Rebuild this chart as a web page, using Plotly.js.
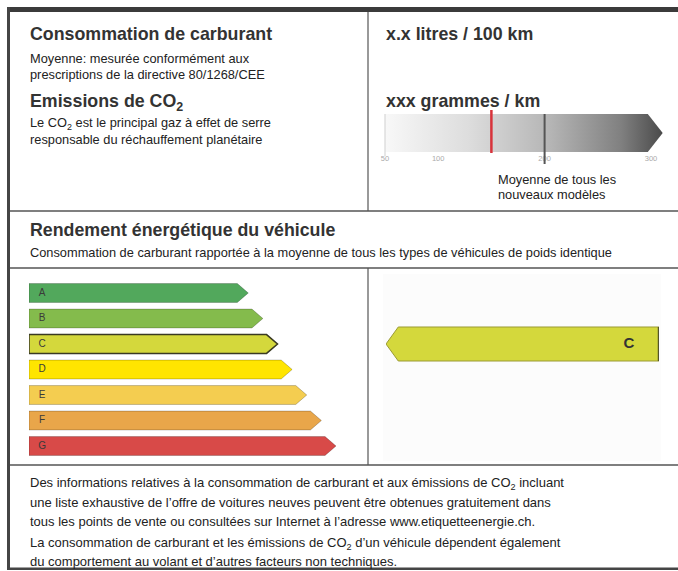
<!DOCTYPE html>
<html><head><meta charset="utf-8">
<script src="https://cdn.plot.ly/plotly-3.0.1.min.js"></script>
<style>html,body{margin:0;padding:0;background:#fff;overflow:hidden}</style>
</head><body><div id="chart" style="width:678px;height:571px"></div>
<script>
// ---- data ----
const grades = ['A','B','C','D','E','F','G'];
const gradeLengths = [15,16,17,18,19,20,21];
const gradeColors = ['#52a85c','#84bb4c','#d4d83c','#ffe500','#f4cd50','#e9a64a','#d84a48'];
const selectedGrade = 'C';
const co2Ticks = [50,100,200,300];
const co2Start = 50;
const co2End = 311;
const co2Vehicle = 150;
const co2Average = 200;

const headings = ['Consommation de carburant','Emissions de CO<sub>2</sub>','x.x litres / 100 km','xxx grammes / km','Rendement énergétique du véhicule'];
const introLines = ['Moyenne: mesurée conformément aux','prescriptions de la directive 80/1268/CEE'];
const co2Lines = ['Le CO<sub>2</sub> est le principal gaz à effet de serre','responsable du réchauffement planétaire'];
const avgLines = ['Moyenne de tous les','nouveaux modèles'];
const effLine = 'Consommation de carburant rapportée à la moyenne de tous les types de véhicules de poids identique';
const footLines = [
 'Des informations relatives à la consommation de carburant et aux émissions de CO<sub>2</sub> incluant',
 'une liste exhaustive de l’offre de voitures neuves peuvent être obtenues gratuitement dans',
 'tous les points de vente ou consultées sur Internet à l’adresse www.etiquetteenergie.ch.',
 'La consommation de carburant et les émissions de CO<sub>2</sub> d’un véhicule dépendent également',
 'du comportement au volant et d’autres facteurs non techniques.'
];

// ---- geometry helpers (pixels) ----
const W = 678, H = 571;
const px = v => v / W;           // paper x
const py = v => 1 - v / H;       // paper y (from top)
const FONT = 'Liberation Sans, Arial, Helvetica, sans-serif';

const traces = [];
const shapes = [];
const annotations = [];

// CO2 gradient arrow (x2 in g/km, y2 in pixel rows)
const tipLen = 14;
traces.push({
  type:'scatter', mode:'lines', xaxis:'x2', yaxis:'y2', hoverinfo:'skip',
  x:[co2Start, co2End - tipLen, co2End, co2End - tipLen, co2Start, co2Start],
  y:[114, 114, 133, 152, 152, 114],
  fill:'toself', line:{width:0, color:'rgba(0,0,0,0)'},
  fillgradient:{type:'horizontal', colorscale:[[0,'#f8f8f8'],[0.3,'#dddddd'],[0.6,'#b4b4b4'],[0.85,'#808080'],[1,'#4a4a4a']]}
});
shapes.push({type:'line', xref:'x2', yref:'y2', x0:co2Start, x1:co2Start, y0:114, y1:156, line:{color:'#cfcfcf', width:1}});
shapes.push({type:'line', xref:'x2', yref:'y2', x0:co2Average, x1:co2Average, y0:114, y1:164, line:{color:'#555', width:2}});
shapes.push({type:'line', xref:'x2', yref:'y2', x0:co2Vehicle, x1:co2Vehicle, y0:110, y1:153, line:{color:'#d8333b', width:2.5}});

// grade arrows (x3/y3)
const h = 0.37, t = 0.75;
const selIdx = grades.indexOf(selectedGrade);
grades.forEach((g, i) => {
  const L = gradeLengths[i];
  traces.push({
    type:'scatter', mode:'lines', xaxis:'x3', yaxis:'y3', hoverinfo:'skip',
    x:[0, L - t, L, L - t, 0, 0], y:[i - h, i - h, i, i + h, i + h, i - h],
    fill:'toself', fillcolor:gradeColors[i],
    line:{color: i === selIdx ? '#3a3a22' : 'rgba(0,0,0,0.22)', width: i === selIdx ? 1.5 : 1}
  });
});
traces.push({
  type:'scatter', mode:'text', xaxis:'x3', yaxis:'y3', hoverinfo:'skip',
  x:grades.map(() => 0.9), y:grades.map((g, i) => i), text:grades,
  textfont:{family:FONT, size:10, color:'#3a3a3a'}
});

// selected grade arrow (x4/y3)
const sh = 0.667, st = 0.045;
traces.push({
  type:'scatter', mode:'lines', xaxis:'x4', yaxis:'y3', hoverinfo:'skip',
  x:[0, st, 1, 1, st, 0], y:[selIdx, selIdx - sh, selIdx - sh, selIdx + sh, selIdx + sh, selIdx],
  fill:'toself', fillcolor:gradeColors[selIdx], line:{color:'#9a9a35', width:1}
});
traces.push({
  type:'scatter', mode:'lines', xaxis:'x4', yaxis:'y3', hoverinfo:'skip',
  x:[1, 1], y:[selIdx - sh, selIdx + sh], line:{color:'#55552a', width:2.5}
});
traces.push({
  type:'scatter', mode:'text', xaxis:'x4', yaxis:'y3', hoverinfo:'skip',
  x:[0.89], y:[selIdx], text:['<b>' + selectedGrade + '</b>'],
  textfont:{family:FONT, size:15, color:'#333'}
});

// frame (main pixel axes x/y)
const rect = (x0, y0, x1, y1, c) => shapes.push({type:'rect', xref:'x', yref:'y', x0, y0, x1, y1, fillcolor:c, line:{width:0}, layer:'below'});
const line = (x0, y0, x1, y1, c, w) => shapes.push({type:'line', xref:'x', yref:'y', x0, y0, x1, y1, line:{color:c, width:w}});
rect(383, 274, 661, 461, '#fcfcfc');
rect(7, 7, 678, 12, '#3b3b3b');
rect(7, 7, 10, 570, '#454545');
rect(7, 567.5, 678, 570, '#454545');
line(10, 211, 678, 211, '#555', 1.5);
line(10, 268, 678, 268, '#555', 1.5);
line(10, 465, 678, 465, '#555', 1.5);
line(368, 12, 368, 211, '#555', 1.2);
line(368, 268, 368, 465, '#555', 1.2);

// text
const txt = (x, y, s, size, bold, color) => annotations.push({
  xref:'x', yref:'y', x, y, text: bold ? '<b>' + s + '</b>' : s, showarrow:false,
  xanchor:'left', yanchor:'middle', align:'left',
  font:{family:FONT, size, color: color || '#222'}
});
const HS = 17.8, BS = 12.8;
txt(28, 34, headings[0], HS, true, '#333');
txt(28, 58, introLines[0], BS);
txt(28, 74.5, introLines[1], BS);
txt(28, 102, headings[1], HS, true, '#333');
txt(28, 123.5, co2Lines[0], BS);
txt(28, 139.5, co2Lines[1], BS);
txt(384, 33.5, headings[2], HS, true, '#333');
txt(384, 100.5, headings[3], HS, true, '#333');
txt(496, 179, avgLines[0], BS);
txt(496, 194, avgLines[1], BS);
txt(28, 230, headings[4], HS, true, '#333');
txt(28, 252, effLine, BS);
footLines.forEach((s, i) => txt(28, [483, 502.5, 521.5, 543, 561][i], s, 13));

const layout = {
  width:W, height:H, margin:{l:0, r:0, t:0, b:0}, paper_bgcolor:'#fff', plot_bgcolor:'rgba(0,0,0,0)',
  showlegend:false, dragmode:false,
  xaxis:{domain:[0,1], range:[0,W], visible:false, fixedrange:true},
  yaxis:{domain:[0,1], range:[H,0], visible:false, fixedrange:true},
  xaxis2:{domain:[px(385 - 2*1.064), px(385 + 263*1.064)], range:[48, 313], anchor:'free', position:py(152),
    tickvals:co2Ticks, ticktext:co2Ticks.map(String), showgrid:false, zeroline:false, showline:false,
    ticks:'', tickfont:{family:FONT, size:7.5, color:'#aaa'}, fixedrange:true},
  yaxis2:{domain:[py(170), py(105)], range:[170,105], visible:false, anchor:'x2', fixedrange:true},
  xaxis3:{domain:[px(29), px(336)], range:[0,21], visible:false, anchor:'y3', fixedrange:true},
  yaxis3:{domain:[py(458.75), py(280.25)], range:[6.5,-0.5], visible:false, anchor:'x3', fixedrange:true},
  xaxis4:{domain:[px(386), px(659)], range:[0,1], visible:false, anchor:'y3', fixedrange:true},
  shapes, annotations
};
Plotly.newPlot('chart', traces, layout, {staticPlot:true, displayModeBar:false});
</script></body></html>
